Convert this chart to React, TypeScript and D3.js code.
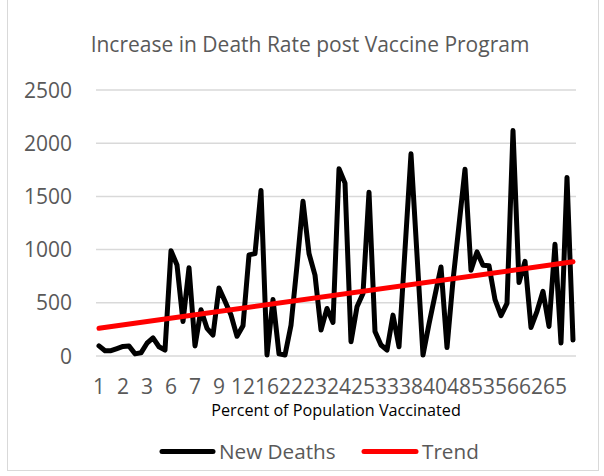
import React from "react";
import * as d3 from "d3";

const title = "Increase in Death Rate post Vaccine Program";
const xAxisTitle = "Percent of Population Vaccinated";
const seriesNames = ["New Deaths", "Trend"];
// New deaths per category (80 categories, label shown every 4th)
const deaths = [
  95, 50, 50, 70, 90, 95, 20, 30, 120, 170,
  87, 56, 990, 855, 325, 830, 95, 435, 260, 197,
  640, 515, 385, 185, 285, 950, 962, 1556, 10, 530,
  20, 10, 290, 850, 1455, 963, 760, 244, 447, 315,
  1760, 1625, 134, 462, 588, 1540, 230, 103, 56, 384,
  87, 1000, 1900, 950, 9, 300, 570, 837, 80, 710,
  1230, 1755, 806, 978, 853, 848, 530, 380, 494, 2119,
  690, 890, 268, 420, 608, 278, 1050, 122, 1678, 150,
];
// visible category labels (every 4th category)
const xTickLabels = [1, 2, 3, 6, 7, 9, 12, 16, 22, 23, 24, 25, 33, 38, 40, 48, 53, 56, 62, 65];
const labelInterval = 4;
// Linear trend: value at first and last category
const trendEnds = [260, 885];
const yTicks = [0, 500, 1000, 1500, 2000, 2500];

const W = 604;
const H = 476;
const FONT = "'Open Sans', 'Noto Sans', sans-serif";
const TXT = "#595959";

export default function App() {
  const idx = deaths.map((_, i) => i);
  const x = d3.scalePoint<number>().domain(idx).range([96, 576]).padding(0.5);
  const y = d3.scaleLinear().domain([0, 2500]).range([356, 90]);

  const line = d3
    .line<number>()
    .x((_, i) => x(i) as number)
    .y((d) => y(d));

  const trendPts: [number, number][] = [
    [x(0) as number, y(trendEnds[0])],
    [x(deaths.length - 1) as number, y(trendEnds[1])],
  ];
  const trendPath = d3.line()(trendPts) as string;

  return (
    <svg
      width={W}
      height={H}
      style={{ position: "absolute", left: 0, top: 0, background: "#fff" }}
      fontFamily={FONT}
    >
      <rect x={0} y={0} width={W} height={H} fill="#fff" />
      <rect x={7.5} y={-1} width={591} height={471.5} fill="none" stroke="#d9d9d9" strokeWidth={1} />
      <text x={310} y={52} textAnchor="middle" fontSize={21} fill={TXT}>
        {title}
      </text>
      {yTicks.map((t) => (
        <g key={t}>
          <line x1={96} x2={576} y1={y(t)} y2={y(t)} stroke="#d9d9d9" strokeWidth={1.5} />
          <text x={72} y={y(t)} dy="0.36em" textAnchor="end" fontSize={21} fill={TXT}>
            {t}
          </text>
        </g>
      ))}
      {xTickLabels.map((l, k) => (
        <text
          key={k}
          x={x(k * labelInterval) as number}
          y={394}
          textAnchor="middle"
          fontSize={21}
          fill={TXT}
        >
          {l}
        </text>
      ))}
      <text x={336} y={416} textAnchor="middle" fontSize={16.2} fill="#000">
        {xAxisTitle}
      </text>
      <path
        d={line(deaths) as string}
        fill="none"
        stroke="#000"
        strokeWidth={5}
        strokeLinejoin="round"
        strokeLinecap="round"
      />
      <path d={trendPath} fill="none" stroke="#ff0000" strokeWidth={5} strokeLinecap="round" />
      <g>
        <line x1={162} x2={213} y1={451.5} y2={451.5} stroke="#000" strokeWidth={5} strokeLinecap="round" />
        <text x={219} y={459} fontSize={20.7} fill={TXT}>
          {seriesNames[0]}
        </text>
        <line x1={364} x2={416} y1={451.5} y2={451.5} stroke="#ff0000" strokeWidth={5} strokeLinecap="round" />
        <text x={422} y={459} fontSize={20.7} fill={TXT}>
          {seriesNames[1]}
        </text>
      </g>
    </svg>
  );
}
